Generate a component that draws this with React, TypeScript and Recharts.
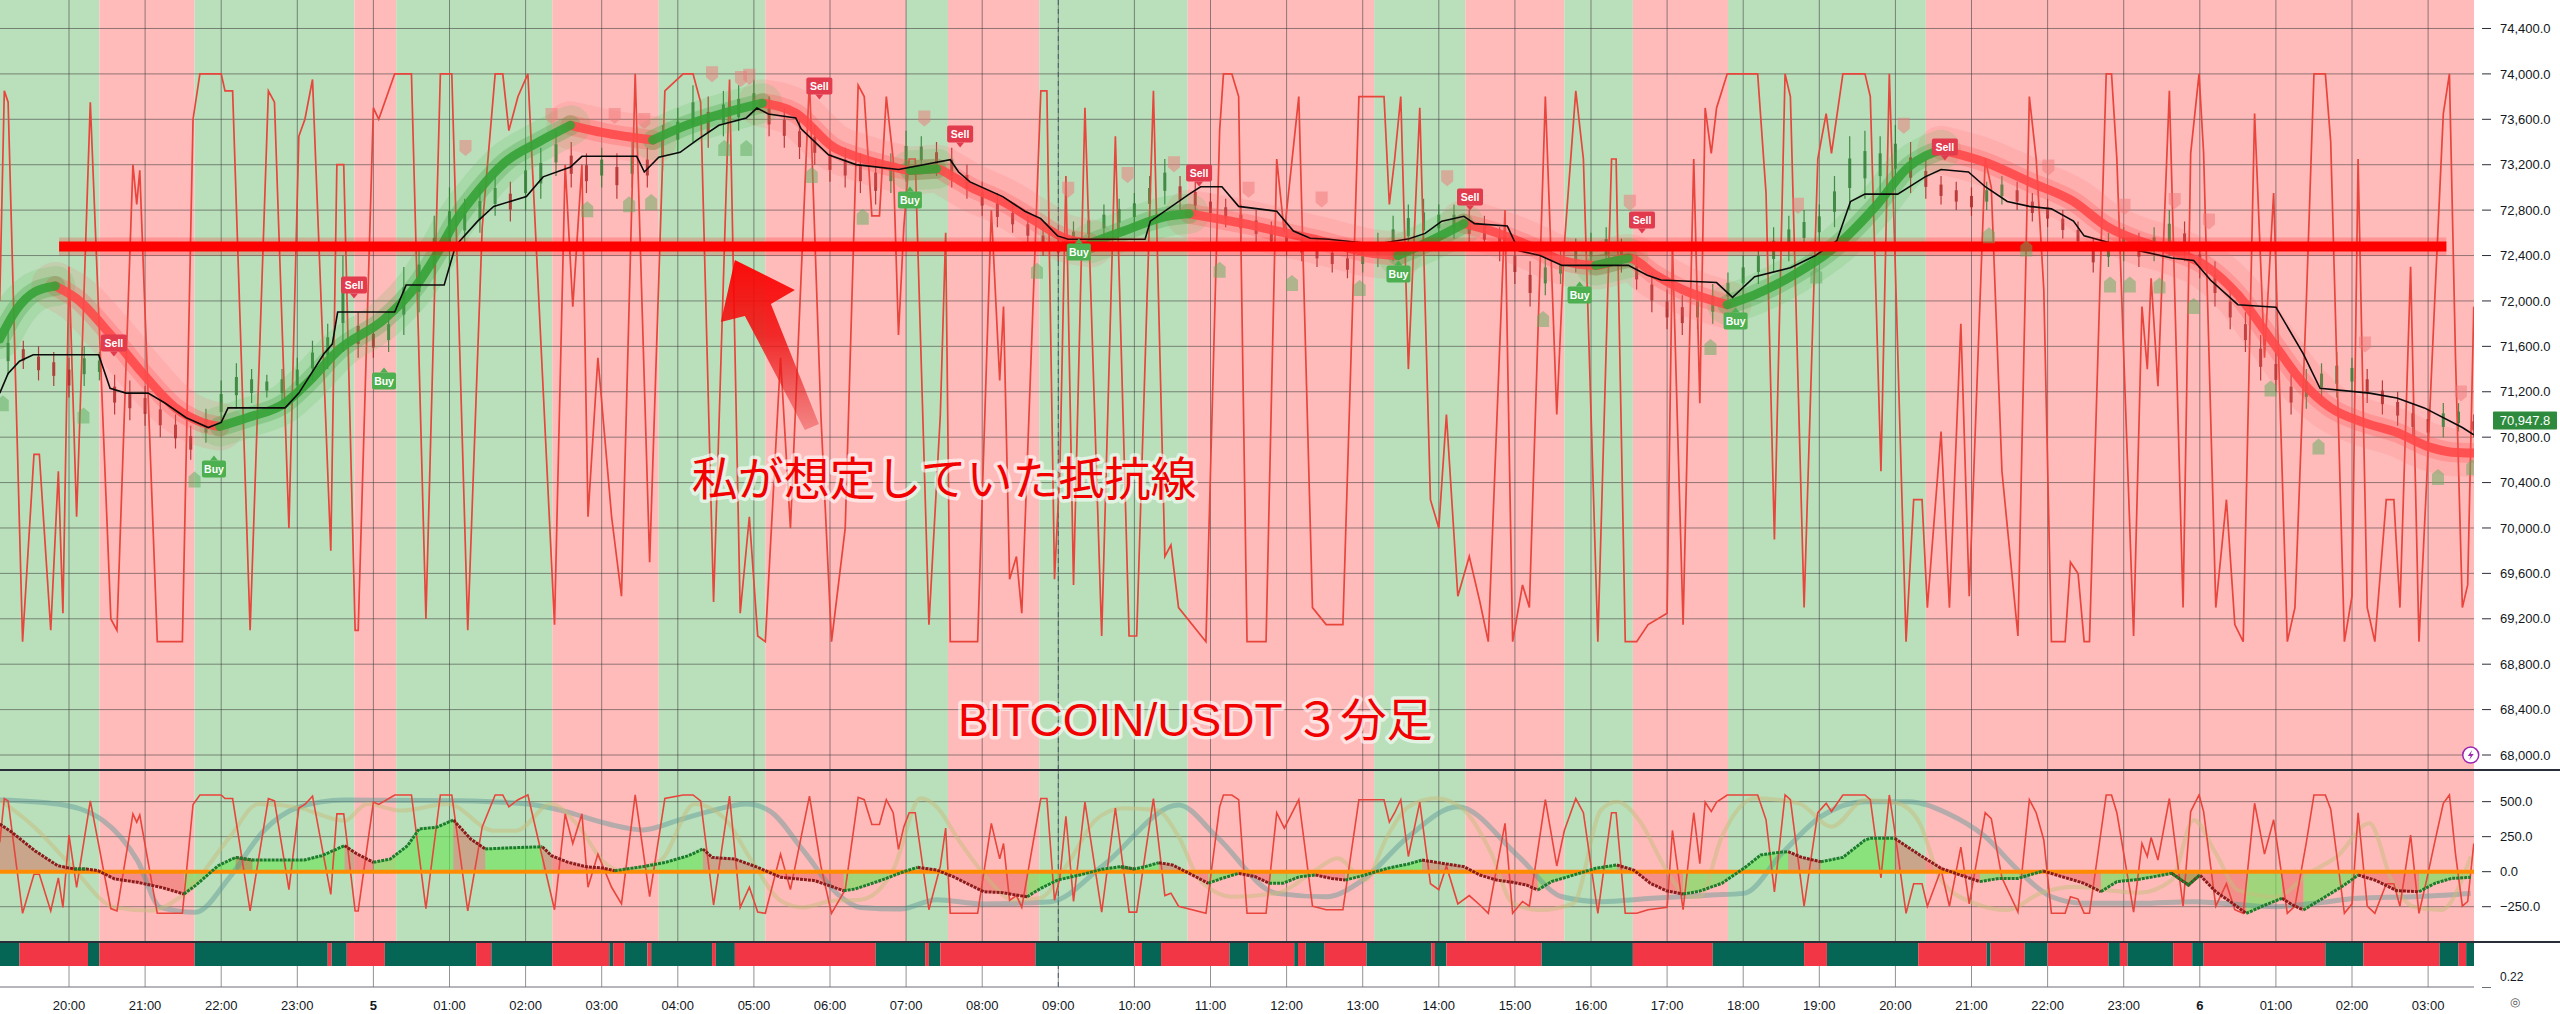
import React from "react";
import {
  Area,
  Bar,
  ComposedChart,
  Line,
  ReferenceArea,
  ReferenceDot,
  ReferenceLine,
  Scatter,
  XAxis,
  YAxis,
} from "recharts";

// page layout (2560 x 1014)
const W = 2560;
const AXIS_W = 86;
const MAIN_H = 770;
const LOW_H = 171;
const STRIP_H = 24;
const TIME_H = 48;

// x = hours since 19:00 on the 4th (3 minute bars)
const X_DOMAIN: [number, number] = [0.0933, 32.603];
const PRICE_DOMAIN: [number, number] = [67868, 74651];
const OSC_MAIN_DOMAIN: [number, number] = [-22.6, 113];
const LOW_DOMAIN: [number, number] = [-495, 726];
const OSC_LOW_DOMAIN: [number, number] = [-23.4, 121.1];

const hourTicks = [1, 2, 3, 4, 5, 6, 7, 8, 9, 10, 11, 12, 13, 14, 15, 16, 17, 18, 19, 20, 21, 22, 23, 24, 25, 26, 27, 28, 29, 30, 31, 32];
const hourLabels = [
  "20:00", "21:00", "22:00", "23:00", "5", "01:00", "02:00", "03:00", "04:00", "05:00", "06:00",
  "07:00", "08:00", "09:00", "10:00", "11:00", "12:00", "13:00", "14:00", "15:00", "16:00", "17:00",
  "18:00", "19:00", "20:00", "21:00", "22:00", "23:00", "6", "01:00", "02:00", "03:00",
];
const priceTicks = [68000, 68400, 68800, 69200, 69600, 70000, 70400, 70800, 71200, 71600, 72000, 72400, 72800, 73200, 73600, 74000, 74400];
const lowTicks = [500, 250, 0, -250];
const CROSSHAIR_H = 14;
const LAST_PRICE = 70947.8;
const RESISTANCE = 72480;
const resistanceSpan = [0.87, 32.24];

// background trend bands, alternating green / red starting green
const bandEdges = [0.0933, 1.4, 2.65, 4.75, 5.3, 7.35, 8.75, 10.15, 12.0, 12.55, 13.75, 15.7, 18.15, 19.35, 20.65, 21.55, 22.8, 25.4, 32.603];
// bottom signal strip, alternating dark green / red starting dark green
const stripEdges = [
  0.0933, 0.35, 1.25, 1.4, 2.65, 4.4, 4.45, 4.65, 5.15, 6.35, 6.55, 7.35, 8.1, 8.15, 8.3, 8.6, 8.65, 9.45, 9.5,
  9.75, 11.6, 12.25, 12.3, 12.45, 13.7, 15.0, 15.1, 15.35, 16.25, 16.5, 17.1, 17.15, 17.25, 17.5, 18.05, 18.9,
  18.95, 19.1, 20.35, 21.55, 22.6, 23.8, 24.1, 25.3, 26.2, 26.25, 26.7, 27.0, 27.8, 27.95, 28.05, 28.65, 28.9,
  29.05, 30.65, 31.15, 32.15, 32.4, 32.5, 32.603,
];

// stochastic-style oscillator (0..100), drawn in both panes
const oscPoints = [
  [0.09, 60], [0.15, 97], [0.2, 95], [0.39, 0], [0.54, 33], [0.61, 33], [0.76, 2], [0.86, 30], [0.92, 5], [1.0, 66],
  [1.1, 22], [1.28, 95], [1.55, 4], [1.63, 2], [1.84, 84], [1.89, 77], [1.93, 83], [2.16, 0], [2.49, 0], [2.63, 92],
  [2.72, 100], [3.0, 100], [3.05, 97], [3.15, 97], [3.38, 2], [3.62, 97], [3.7, 95], [3.89, 20], [4.02, 89], [4.1, 92],
  [4.2, 99], [4.44, 16], [4.52, 84], [4.61, 84], [4.76, 2], [4.8, 2], [5.0, 94], [5.07, 92], [5.28, 100], [5.5, 100],
  [5.69, 4], [5.88, 100], [6.03, 100], [6.24, 2], [6.43, 73], [6.6, 100], [6.7, 100], [6.78, 90], [6.9, 96], [7.03, 100],
  [7.38, 3], [7.52, 84], [7.62, 59], [7.74, 84], [7.82, 22], [7.95, 50], [8.13, 22], [8.26, 8], [8.44, 100], [8.63, 14],
  [8.83, 97], [9.07, 100], [9.2, 100], [9.3, 95], [9.47, 7], [9.68, 99], [9.82, 5], [9.94, 22], [10.05, 1], [10.15, 0],
  [10.35, 50], [10.48, 20], [10.73, 99], [10.88, 40], [11.02, 0], [11.2, 20], [11.37, 98], [11.45, 96], [11.55, 75], [11.65, 75],
  [11.74, 96], [11.83, 85], [11.9, 54], [11.97, 73], [12.04, 85], [12.12, 85], [12.3, 3], [12.45, 40], [12.52, 72], [12.58, 0],
  [12.94, 0], [13.12, 76], [13.23, 46], [13.28, 59], [13.36, 11], [13.45, 15], [13.52, 5], [13.77, 97], [13.85, 97], [13.95, 11],
  [14.02, 30], [14.1, 82], [14.2, 10], [14.35, 94], [14.57, 1], [14.75, 89], [14.93, 1], [15.03, 1], [15.25, 97], [15.4, 15],
  [15.48, 17], [15.58, 6], [15.94, 0], [16.12, 90], [16.17, 100], [16.28, 100], [16.37, 96], [16.48, 0], [16.73, 0], [16.87, 85],
  [16.97, 72], [17.16, 96], [17.34, 6], [17.52, 3], [17.74, 3], [17.95, 96], [18.28, 96], [18.35, 77], [18.42, 85], [18.5, 96],
  [18.6, 48], [18.75, 94], [18.89, 25], [19.0, 20], [19.1, 40], [19.25, 8], [19.4, 15], [19.54, 7], [19.65, 0], [19.87, 76],
  [19.97, 0], [20.1, 10], [20.19, 6], [20.4, 96], [20.55, 40], [20.65, 70], [20.8, 97], [20.9, 85], [21.09, 0], [21.27, 85],
  [21.33, 85], [21.45, 0], [21.6, 0], [21.75, 3], [22.0, 5], [22.07, 70], [22.21, 3], [22.35, 85], [22.43, 42], [22.5, 94],
  [22.58, 86], [22.65, 94], [22.79, 100], [23.19, 100], [23.3, 79], [23.41, 18], [23.55, 100], [23.62, 96], [23.8, 6], [23.98, 85],
  [24.09, 93], [24.16, 86], [24.31, 100], [24.6, 100], [24.67, 96], [24.81, 30], [24.92, 100], [24.99, 70], [25.14, 0], [25.24, 25],
  [25.35, 25], [25.42, 6], [25.6, 37], [25.71, 6], [25.86, 56], [25.97, 8], [26.18, 85], [26.26, 80], [26.4, 30], [26.61, 1],
  [26.76, 96], [26.85, 85], [26.95, 62], [27.05, 0], [27.23, 0], [27.3, 14], [27.4, 12], [27.48, 0], [27.55, 0], [27.77, 100],
  [27.84, 100], [27.91, 85], [28.13, 1], [28.24, 59], [28.31, 48], [28.36, 64], [28.45, 45], [28.6, 97], [28.78, 6], [28.88, 86],
  [28.99, 100], [29.05, 86], [29.21, 6], [29.35, 25], [29.46, 3], [29.57, 0], [29.72, 93], [29.85, 50], [29.97, 79], [30.15, 0],
  [30.25, 6], [30.4, 60], [30.5, 100], [30.65, 100], [30.72, 88], [30.9, 0], [31.0, 8], [31.08, 85], [31.2, 6], [31.3, 0],
  [31.45, 25], [31.55, 25], [31.63, 6], [31.77, 66], [31.88, 0], [31.98, 28], [32.09, 61], [32.2, 93], [32.28, 100], [32.36, 50],
  [32.45, 6], [32.52, 10], [32.6, 59],
];

// thick trend average (price)
const maPoints = [
  [0.09, 71664], [0.31, 71924], [0.55, 72080], [0.82, 72132], [1.1, 72020], [1.54, 71707], [1.97, 71361], [2.4, 71058],
  [2.75, 70930], [2.98, 70894], [3.34, 70971], [3.84, 71101], [4.13, 71275], [4.56, 71577], [5.14, 71837], [5.57, 72140],
  [5.86, 72443], [6.08, 72703], [6.37, 72963], [6.73, 73222], [7.16, 73396], [7.59, 73547], [8.02, 73482], [8.67, 73417],
  [9.11, 73547], [9.61, 73655], [10.11, 73742], [10.55, 73655], [11.05, 73352], [11.4, 73260], [11.83, 73180], [12.05, 73150],
  [12.4, 73165], [12.6, 73100], [12.84, 73006], [13.27, 72876], [13.7, 72703], [14.06, 72560], [14.42, 72508], [14.86, 72616],
  [15.43, 72746], [15.72, 72768], [16.08, 72725], [16.44, 72681], [16.87, 72616], [17.45, 72530], [18.1, 72422], [18.46, 72400],
  [18.89, 72530], [19.33, 72681], [19.69, 72616], [20.19, 72487], [20.62, 72357], [21.06, 72313], [21.49, 72378], [21.85, 72227],
  [22.21, 72097], [22.79, 71967], [23.15, 72054], [23.66, 72227], [24.23, 72487], [24.74, 72833], [25.17, 73179], [25.6, 73331],
  [26.18, 73222], [26.76, 73049], [27.34, 72876], [27.77, 72660], [28.2, 72530], [28.63, 72443], [29.07, 72313], [29.5, 72054],
  [29.93, 71664], [30.36, 71274], [30.72, 71058], [31.16, 70928], [31.59, 70841], [32.02, 70712], [32.31, 70668], [32.6, 70660],
];

// black baseline
const basePoints = [
  [0.09, 71188], [0.2, 71361], [0.35, 71469], [0.53, 71526], [1.39, 71526], [1.54, 71231], [1.75, 71188], [2.04, 71188],
  [2.26, 71101], [2.54, 70971], [2.83, 70885], [3.0, 70930], [3.09, 71058], [3.84, 71058], [4.02, 71188], [4.35, 71534],
  [4.46, 71620], [4.53, 71902], [5.28, 71902], [5.43, 72140], [5.93, 72140], [6.08, 72487], [6.37, 72703], [6.58, 72833],
  [7.01, 72919], [7.23, 73093], [7.59, 73179], [7.74, 73274], [8.46, 73274], [8.56, 73136], [8.75, 73266], [9.03, 73309],
  [9.25, 73417], [9.54, 73547], [9.9, 73612], [10.04, 73699], [10.19, 73647], [10.55, 73612], [10.62, 73517], [10.98, 73287],
  [11.34, 73201], [11.9, 73158], [12.58, 73244], [12.69, 73136], [12.84, 73049], [13.27, 72919], [13.56, 72790], [13.77, 72725],
  [13.99, 72573], [14.13, 72543], [15.14, 72543], [15.21, 72703], [15.72, 72941], [15.87, 73006], [16.15, 73006], [16.37, 72833],
  [16.87, 72790], [17.09, 72616], [17.31, 72552], [17.56, 72543], [18.17, 72500], [18.61, 72547], [18.82, 72595], [19.04, 72703],
  [19.33, 72746], [19.47, 72681], [19.9, 72660], [20.05, 72443], [20.33, 72400], [20.62, 72313], [21.49, 72313], [21.74, 72227],
  [21.92, 72184], [22.65, 72162], [22.86, 72032], [23.15, 72214], [23.62, 72292], [23.95, 72400], [24.23, 72530], [24.41, 72876],
  [24.6, 72941], [25.03, 72941], [25.39, 73093], [25.6, 73158], [25.96, 73136], [26.18, 73006], [26.47, 72876], [26.76, 72833],
  [27.05, 72811], [27.34, 72703], [27.48, 72573], [28.2, 72443], [28.63, 72378], [28.92, 72357], [29.14, 72184], [29.5, 71967],
  [30.0, 71945], [30.36, 71534], [30.58, 71231], [31.23, 71188], [31.59, 71145], [31.95, 71058], [32.45, 70885], [32.6, 70820],
];

// candles every 0.2 h (high / low)
const CANDLE_T0 = 0.2;
const CANDLE_STEP = 0.2;
const candleLo = [
  71350, 71400, 71300, 71250, 71150, 71250, 71300, 71000, 70950, 70900, 70800, 70700, 70600, 70750, 70900, 71050, 71100,
  71150, 71100, 71150, 71300, 71400, 71550, 71500, 71500, 71550, 71700, 71900, 72100, 72300, 72500, 72600, 72750, 72700,
  72800, 72900, 73100, 73000, 72950, 73000, 72900, 73000, 73000, 73150, 73300, 73400, 73350, 73450, 73500, 73550, 73450,
  73350, 73250, 73200, 73050, 73000, 72950, 72850, 72950, 73050, 73150, 73100, 73000, 72900, 72750, 72650, 72600, 72500,
  72400, 72350, 72400, 72500, 72550, 72600, 72650, 72750, 72850, 72800, 72750, 72700, 72650, 72550, 72500, 72450, 72400,
  72350, 72300, 72250, 72200, 72250, 72300, 72350, 72450, 72500, 72550, 72550, 72500, 72450, 72350, 72150, 71950, 72050,
  72150, 72250, 72300, 72300, 72250, 72100, 71900, 71750, 71700, 71750, 71800, 71950, 72050, 72150, 72250, 72350, 72450,
  72500, 72650, 72800, 72900, 72950, 73000, 72950, 72900, 72850, 72800, 72750, 72800, 72850, 72800, 72700, 72650, 72550,
  72450, 72250, 72300, 72350, 72300, 72350, 72400, 72350, 72200, 71950, 71750, 71550, 71300, 71200, 71000, 71050, 71150,
  71150, 71200, 71100, 71000, 70900, 70800, 70750, 70800, 70850, 70800,
];
const candleHi = [
  71750, 71650, 71600, 71550, 71500, 71600, 71550, 71350, 71300, 71250, 71150, 71000, 70900, 71050, 71300, 71450, 71400,
  71350, 71400, 71500, 71650, 71800, 72400, 71900, 71800, 71900, 72300, 72500, 72750, 73000, 72900, 73000, 73100, 73050,
  73300, 73350, 73500, 73400, 73300, 73350, 73300, 73400, 73350, 73550, 73700, 73900, 73800, 73850, 73900, 73950, 73800,
  73700, 73600, 73550, 73400, 73350, 73300, 73250, 73300, 73500, 73450, 73400, 73350, 73200, 73050, 72950, 72850, 72750,
  72650, 72600, 72700, 72800, 72850, 72900, 72950, 73100, 73250, 73100, 73050, 72950, 72900, 72850, 72800, 72700, 72650,
  72600, 72550, 72500, 72450, 72500, 72600, 72750, 72850, 72900, 72850, 72850, 72800, 72750, 72650, 72500, 72350, 72400,
  72450, 72550, 72600, 72650, 72550, 72400, 72250, 72100, 72050, 72100, 72150, 72250, 72400, 72500, 72650, 72750, 72800,
  72850, 73100, 73450, 73500, 73450, 73550, 73400, 73250, 73100, 73050, 73000, 73050, 73100, 73050, 72950, 72900, 72800,
  72700, 72550, 72600, 72650, 72600, 72650, 72800, 72700, 72500, 72350, 72100, 71900, 71700, 71550, 71350, 71400, 71450,
  71550, 71500, 71400, 71300, 71200, 71100, 71050, 71100, 71100, 71000,
];

// buy / sell signal labels
const sellT = [1.59, 4.745, 10.86, 12.71, 15.85, 19.41, 21.67, 25.65];
const sellP = [71625, 72136, 73889, 73466, 73122, 72911, 72708, 73351];
const buyT = [2.905, 5.14, 12.05, 14.27, 18.47, 20.85, 22.9];
const buyP = [70523, 71299, 72893, 72435, 72241, 72056, 71827];

// faded arrow markers
const upT = [0.13, 1.19, 2.65, 7.81, 8.36, 8.65, 9.61, 9.9, 10.76, 11.43, 13.72, 16.12, 17.07, 17.96, 20.37, 22.57, 23.96, 26.23, 26.72, 27.82, 28.08, 28.47, 28.92, 29.93, 30.56, 32.13, 32.58];
const upP = [71098, 70990, 70427, 72807, 72851, 72872, 73348, 73348, 73110, 72742, 72266, 72275, 72158, 72115, 71842, 71595, 72223, 72578, 72461, 72145, 72145, 72136, 71955, 71228, 70717, 70449, 70535];
const downT = [6.21, 7.34, 8.17, 8.56, 9.45, 9.83, 9.94, 12.24, 14.13, 14.91, 15.52, 16.5, 17.46, 19.11, 21.51, 23.72, 25.11, 27.01, 28.01, 28.67, 29.12, 31.17, 32.43];
const downP = [73348, 73630, 73630, 73586, 73997, 73954, 73976, 73608, 72980, 73110, 73205, 72980, 72894, 73080, 72864, 72838, 73543, 73175, 72829, 72881, 72699, 71617, 71184];

// annotations (anchor point in data space)
const arrowTip = { t: 9.75, p: 72361 };
const noteText = { t: 12.5, p: 70432, text: "私が想定していた抵抗線" };
const titleText = { t: 15.8, p: 68309, text: "BITCOIN/USDT ３分足" };

// lower pane: momentum wave, and two slow oscillators
const wavePoints = [
  [0.09, 340], [0.25, 281], [0.55, 150], [0.85, 43], [1.07, 19], [1.23, 19], [1.38, 7], [1.6, -52], [1.9, -76], [2.21, -112],
  [2.51, -159], [2.66, -100], [2.96, 43], [3.19, 102], [3.41, 83], [3.72, 83], [4.09, 83], [4.32, 114], [4.62, 186], [4.77, 131],
  [5.0, 67], [5.22, 90], [5.45, 186], [5.6, 305], [5.83, 317], [6.05, 369], [6.28, 233], [6.47, 162], [6.73, 169], [7.22, 178],
  [7.34, 114], [7.56, 67], [7.79, 36], [8.01, 26], [8.17, 7], [8.32, 19], [8.54, 36], [8.84, 67], [9.14, 114], [9.33, 162],
  [9.45, 102], [9.75, 90], [10.05, 31], [10.35, -40], [10.8, -64], [11.18, -136], [11.33, -124], [11.68, -60], [11.97, 0], [12.15, 31],
  [12.4, 12], [12.62, -36], [12.84, -95], [13.02, -143], [13.27, -150], [13.45, -167], [13.59, -179], [13.77, -119], [13.99, -60], [14.28, -24],
  [14.57, 17], [14.82, 36], [15.0, 19], [15.14, 36], [15.32, 64], [15.5, 48], [15.72, -12], [15.97, -83], [16.15, -48], [16.37, -12],
  [16.59, -36], [16.77, -83], [16.95, -83], [17.17, -36], [17.38, -24], [17.59, -48], [17.77, -60], [18.03, -24], [18.32, 24], [18.6, 55],
  [18.78, 83], [19.04, 60], [19.33, 36], [19.54, -24], [19.76, -60], [19.97, -76], [20.15, -95], [20.3, -131], [20.48, -71], [20.77, -24],
  [21.06, 24], [21.34, 48], [21.56, 12], [21.78, -83], [21.99, -136], [22.21, -160], [22.42, -140], [22.72, -83], [23.01, 24], [23.23, 119],
  [23.44, 136], [23.59, 143], [23.77, 102], [24.02, 71], [24.31, 102], [24.6, 226], [24.67, 238], [24.99, 238], [25.32, 119], [25.6, 24],
  [25.89, -31], [26.11, -71], [26.36, -48], [26.61, -48], [26.94, 5], [27.19, -36], [27.48, -83], [27.7, -143], [27.91, -71], [28.2, -55],
  [28.63, -12], [28.85, -95], [29.0, -24], [29.21, -143], [29.43, -226], [29.61, -298], [29.86, -238], [30.08, -190], [30.22, -238], [30.36, -274],
  [30.65, -179], [30.9, -95], [31.08, -24], [31.3, -60], [31.59, -136], [31.88, -143], [32.09, -83], [32.31, -48], [32.56, -40],
];
const slowPoints = [
  [0.09, 512], [0.85, 483], [1.45, 364], [1.9, 79], [2.2, -255], [2.66, -290], [3.11, -40], [3.56, 293], [4.01, 459], [4.62, 512],
  [6.13, 507], [7.03, 483], [7.48, 436], [8.09, 340], [8.54, 298], [8.99, 364], [9.45, 436], [9.9, 483], [10.2, 436], [10.65, 150],
  [11.1, -160], [11.4, -255], [11.92, -267], [12.4, -200], [13.0, -230], [13.9, -214], [14.6, 50], [15.58, 476], [16.08, 250], [16.87, -155],
  [17.52, -179], [18.0, -60], [18.6, 250], [19.25, 464], [20.05, 107], [20.62, -179], [21.13, -214], [21.8, -190], [22.58, -167], [23.01, -155],
  [23.51, 131], [24.02, 393], [24.6, 500], [25.17, 500], [25.68, 417], [26.18, 250], [26.61, 12], [27.05, -179], [27.48, -226], [28.2, -226],
  [28.92, -214], [30.0, -250], [30.5, -226], [31.08, -190], [31.8, -179], [32.56, -155],
];
const fastPoints = [
  [0.09, 512], [0.55, 316], [1.0, 60], [1.6, -255], [2.06, -278], [2.51, -160], [3.11, 245], [3.49, 483], [4.0, 459], [4.62, 364],
  [4.92, 483], [5.37, 436], [5.98, 483], [6.58, 293], [6.88, 293], [7.33, 483], [7.71, 316], [8.01, 79], [8.24, 7], [8.77, 79],
  [9.22, 483], [9.6, 388], [9.97, 79], [10.35, -207], [10.65, -255], [11.03, -207], [11.4, -200], [11.83, 12], [12.19, 524], [12.4, 464],
  [12.69, 226], [13.05, -36], [13.41, -202], [13.75, -190], [14.13, 60], [14.49, 369], [14.85, 452], [15.29, 440], [15.58, 250], [15.86, -60],
  [16.3, -179], [16.9, -150], [17.38, 12], [17.67, 95], [18.03, -60], [18.32, 250], [18.6, 464], [18.97, 524], [19.33, 440], [19.69, 131],
  [19.97, -226], [20.33, -274], [20.77, -226], [21.13, 440], [21.34, 500], [21.63, 369], [21.99, 12], [22.28, -179], [22.43, -179], [22.72, 250],
  [23.15, 524], [23.73, 488], [24.16, 321], [24.6, 512], [25.03, 488], [25.32, 345], [25.6, -60], [26.04, -226], [26.47, -274], [26.9, -155],
  [27.34, -107], [27.77, -131], [28.2, -150], [28.63, -60], [28.92, 369], [29.21, 131], [29.5, -131], [30.0, -179], [30.43, -12], [30.8, 107],
  [31.23, 345], [31.52, -60], [31.81, -250], [32.17, -274], [32.56, 107],
];

// ---------- derived rows ----------
const BAND_G = "#badfbb";
const BAND_R = "#ffbaba";
const STRIP_G = "#056656";
const STRIP_R = "#f23645";
const TXT = "#131722";
const AXIS_FONT = "'Liberation Sans', Arial, sans-serif";
const GRID = "#3a3a3a";

function segments(edges: number[], colors: [string, string]) {
  return edges.slice(0, -1).map((x1, i) => ({ x1, x2: edges[i + 1], fill: colors[i % 2] }));
}
const bands = segments(bandEdges, [BAND_G, BAND_R]);
const strip = segments(stripEdges, [STRIP_G, STRIP_R]);

const toRows = (pts: number[][]) => pts.map(([t, v]) => ({ t, v }));
function byDirection(pts: number[][]) {
  return pts.map(([t, v], i) => {
    const prev = i > 0 ? pts[i - 1][1] : null;
    const next = i < pts.length - 1 ? pts[i + 1][1] : null;
    const up = (prev !== null && v >= prev) || (next !== null && next >= v);
    const down = (prev !== null && v < prev) || (next !== null && next < v);
    return { t, v, up: up ? v : null, down: down ? v : null };
  });
}

const oscRows = toRows(oscPoints);
const maRows = byDirection(maPoints);
const baseRows = toRows(basePoints);
const waveRows = byDirection(wavePoints);
const slowRows = toRows(slowPoints);
const fastRows = toRows(fastPoints);
const resistanceRows = resistanceSpan.map((t) => ({ t, v: RESISTANCE }));
const zeroRows = X_DOMAIN.map((t) => ({ t, v: 0 }));
const candleRows = candleLo.map((lo, i) => {
  const hi = candleHi[i];
  const prevMid = i > 0 ? (candleLo[i - 1] + candleHi[i - 1]) / 2 : lo;
  return {
    t: Math.round((CANDLE_T0 + i * CANDLE_STEP) * 100) / 100,
    range: [lo, hi],
    up: (lo + hi) / 2 >= prevMid,
  };
});
const zipRows = (ts: number[], ps: number[]) => ts.map((t, i) => ({ t, p: ps[i] }));
const sellRows = zipRows(sellT, sellP);
const buyRows = zipRows(buyT, buyP);
const upRows = zipRows(upT, upP);
const downRows = zipRows(downT, downP);

const fmtNum = (v: number) =>
  (v < 0 ? "\u2212" : "") +
  Math.abs(v).toLocaleString("en-US", { minimumFractionDigits: 1, maximumFractionDigits: 1 });

// ---------- shapes ----------
function AxisTick({ x, y, payload }: any) {
  return (
    <g>
      <line x1={x + 8} x2={x + 17} y1={y} y2={y} stroke="#2a2e39" strokeWidth={1} />
      <text x={x + 26} y={y} dy="0.36em" fontSize={13} fill={TXT} fontFamily={AXIS_FONT}>
        {fmtNum(payload.value)}
      </text>
    </g>
  );
}

function TimeTick({ x, y, payload }: any) {
  const label = hourLabels[payload.value - 1] ?? "";
  const day = label.length === 1;
  return (
    <text x={x} y={y} dy={23} textAnchor="middle" fontSize={13} fill={TXT} fontFamily={AXIS_FONT} fontWeight={day ? 700 : 400}>
      {label}
    </text>
  );
}

function CandleShape(props: any) {
  const { x, y, width, height, payload } = props;
  if (x == null || y == null || !payload) return null;
  const top = Math.min(y, y + height);
  const h = Math.abs(height);
  const cx = x + width / 2;
  const col = payload.up ? "#2e7d32" : "#b02525";
  return (
    <g opacity={0.85}>
      <line x1={cx} x2={cx} y1={top} y2={top + h} stroke={col} strokeWidth={1.2} />
      <rect x={cx - 1.5} y={top + h * 0.3} width={3} height={Math.max(1, h * 0.4)} fill={col} />
    </g>
  );
}

function SellShape({ cx, cy }: any) {
  return (
    <g>
      <rect x={cx - 13} y={cy - 9} width={26} height={17} rx={2} fill="#e23b4e" />
      <path d={`M${cx - 4},${cy + 8} L${cx + 4},${cy + 8} L${cx},${cy + 13} Z`} fill="#e23b4e" />
      <text x={cx} y={cy} dy="0.35em" textAnchor="middle" fontSize={10.5} fontWeight={700} fill="#fff" fontFamily={AXIS_FONT}>
        Sell
      </text>
    </g>
  );
}

function BuyShape({ cx, cy }: any) {
  return (
    <g>
      <path d={`M${cx - 4},${cy - 8} L${cx + 4},${cy - 8} L${cx},${cy - 13} Z`} fill="#4caf50" />
      <rect x={cx - 12} y={cy - 8} width={24} height={17} rx={2} fill="#4caf50" />
      <text x={cx} y={cy} dy="0.38em" textAnchor="middle" fontSize={10.5} fontWeight={700} fill="#fff" fontFamily={AXIS_FONT}>
        Buy
      </text>
    </g>
  );
}

function UpMark({ cx, cy }: any) {
  return (
    <path
      d={`M${cx},${cy - 8} L${cx + 6},${cy - 3} L${cx + 6},${cy + 8} L${cx - 6},${cy + 8} L${cx - 6},${cy - 3} Z`}
      fill="#5fae5f"
      fillOpacity={0.5}
    />
  );
}

function DownMark({ cx, cy }: any) {
  return (
    <path
      d={`M${cx},${cy + 8} L${cx + 6},${cy + 3} L${cx + 6},${cy - 8} L${cx - 6},${cy - 8} L${cx - 6},${cy + 3} Z`}
      fill="#f07878"
      fillOpacity={0.5}
    />
  );
}

function ArrowShape({ cx, cy }: any) {
  const pts = [
    [0, 0], [60, 30], [36, 44], [84, 164], [70, 170], [10, 56], [-14, 62],
  ]
    .map(([dx, dy]) => `${cx + dx},${cy + dy}`)
    .join(" ");
  return (
    <g>
      <defs>
        <linearGradient id="arrowFade" x1="0" y1="0" x2="0" y2="1">
          <stop offset="0" stopColor="#ff0000" stopOpacity={0.95} />
          <stop offset="0.45" stopColor="#f01010" stopOpacity={0.85} />
          <stop offset="1" stopColor="#e02020" stopOpacity={0.35} />
        </linearGradient>
      </defs>
      <polygon points={pts} fill="url(#arrowFade)" />
    </g>
  );
}

function makeTextShape(text: string, size: number, family: string) {
  return ({ cx, cy }: any) => (
    <text
      x={cx}
      y={cy}
      dy="0.36em"
      textAnchor="middle"
      fontSize={size}
      fontFamily={family}
      fill="#f20000"
      stroke="#ffffff"
      strokeOpacity={0.6}
      strokeWidth={7}
      strokeLinejoin="round"
      paintOrder="stroke"
    >
      {text}
    </text>
  );
}
const NoteShape = makeTextShape(noteText.text, 46, "'Noto Sans CJK JP', sans-serif");
const TitleShape = makeTextShape(titleText.text, 46, "'Liberation Sans', 'Noto Sans CJK JP', sans-serif");

function LastPriceLabel(props: any) {
  const vb = props.viewBox;
  if (!vb) return null;
  const x = vb.x + vb.width + 19;
  return (
    <g>
      <rect x={x} y={vb.y - 9} width={64} height={18} rx={1} fill="#2e8b3e" />
      <text x={x + 32} y={vb.y} dy="0.36em" textAnchor="middle" fontSize={13} fill="#fff" fontFamily={AXIS_FONT}>
        {fmtNum(LAST_PRICE)}
      </text>
    </g>
  );
}

function BoltShape({ cx, cy }: any) {
  return (
    <g>
      <circle cx={cx} cy={cy} r={8} fill="#fff" stroke="#9c27b0" strokeWidth={1.5} />
      <path d={`M${cx + 1.5},${cy - 5} L${cx - 3},${cy + 1} L${cx},${cy + 1} L${cx - 1.5},${cy + 5} L${cx + 3},${cy - 1} L${cx},${cy - 1} Z`} fill="#9c27b0" />
    </g>
  );
}

// ---------- panes ----------
const noAnim = { isAnimationActive: false, dot: false, activeDot: false } as const;

function hourGrid(yAxisId: string) {
  return hourTicks.map((h) => (
    <ReferenceLine key={`vh${h}`} yAxisId={yAxisId} x={h} stroke={GRID} strokeOpacity={0.55} strokeWidth={1} zIndex={-150} />
  ));
}
function bandAreas(yAxisId: string, list: { x1: number; x2: number; fill: string }[], prefix: string) {
  return list.map((b, i) => (
    <ReferenceArea
      key={`${prefix}${i}`}
      yAxisId={yAxisId}
      x1={b.x1}
      x2={b.x2}
      fill={b.fill}
      fillOpacity={1}
      stroke="none"
      ifOverflow="hidden"
      zIndex={-200}
    />
  ));
}
function crosshair(yAxisId: string) {
  return <ReferenceLine yAxisId={yAxisId} x={CROSSHAIR_H} stroke="#4a5a6a" strokeDasharray="5 4" strokeWidth={1} zIndex={-140} />;
}

function MainPane() {
  return (
    <ComposedChart width={W} height={MAIN_H} data={candleRows} margin={{ top: 0, right: 0, bottom: 0, left: 0 }}>
      <XAxis dataKey="t" type="number" domain={X_DOMAIN} allowDataOverflow hide />
      <YAxis
        yAxisId="p"
        orientation="right"
        width={AXIS_W}
        domain={PRICE_DOMAIN}
        allowDataOverflow
        ticks={priceTicks}
        interval={0}
        tick={<AxisTick />}
        tickSize={0}
        tickMargin={0}
        tickLine={false}
        axisLine={false}
      />
      <YAxis yAxisId="o" hide domain={OSC_MAIN_DOMAIN} allowDataOverflow />
      {bandAreas("p", bands, "mb")}
      {hourGrid("p")}
      {priceTicks.map((p) => (
        <ReferenceLine key={`hp${p}`} yAxisId="p" y={p} stroke={GRID} strokeOpacity={0.55} strokeWidth={1} zIndex={-150} />
      ))}
      {crosshair("p")}
      <Bar yAxisId="p" dataKey="range" barSize={3} shape={<CandleShape />} isAnimationActive={false} />
      <Line data={oscRows} yAxisId="o" dataKey="v" type="linear" stroke="#e8453c" strokeWidth={1.7} {...noAnim} />
      <Line data={maRows} yAxisId="p" dataKey="down" type="monotone" stroke="#ff6a6a" strokeOpacity={0.14} strokeWidth={48} strokeLinecap="round" {...noAnim} />
      <Line data={maRows} yAxisId="p" dataKey="up" type="monotone" stroke="#4cb84c" strokeOpacity={0.16} strokeWidth={40} strokeLinecap="round" {...noAnim} />
      <Line data={maRows} yAxisId="p" dataKey="down" type="monotone" stroke="#ff4d4d" strokeOpacity={0.25} strokeWidth={20} strokeLinecap="round" {...noAnim} />
      <Line data={maRows} yAxisId="p" dataKey="up" type="monotone" stroke="#3aa03a" strokeOpacity={0.28} strokeWidth={20} strokeLinecap="round" {...noAnim} />
      <Line data={maRows} yAxisId="p" dataKey="down" type="monotone" stroke="#ff4848" strokeOpacity={0.88} strokeWidth={9} strokeLinecap="round" {...noAnim} />
      <Line data={maRows} yAxisId="p" dataKey="up" type="monotone" stroke="#36a236" strokeOpacity={0.9} strokeWidth={9} strokeLinecap="round" {...noAnim} />
      <Line data={baseRows} yAxisId="p" dataKey="v" type="linear" stroke="#0b0b0b" strokeWidth={1.6} {...noAnim} />
      <Line data={resistanceRows} yAxisId="p" dataKey="v" type="linear" stroke="#ff0000" strokeOpacity={0.2} strokeWidth={18} {...noAnim} />
      <Line data={resistanceRows} yAxisId="p" dataKey="v" type="linear" stroke="#ff0000" strokeWidth={10} {...noAnim} />
      <Scatter data={upRows} yAxisId="p" dataKey="p" shape={<UpMark />} isAnimationActive={false} />
      <Scatter data={downRows} yAxisId="p" dataKey="p" shape={<DownMark />} isAnimationActive={false} />
      <Scatter data={sellRows} yAxisId="p" dataKey="p" shape={<SellShape />} isAnimationActive={false} />
      <Scatter data={buyRows} yAxisId="p" dataKey="p" shape={<BuyShape />} isAnimationActive={false} />
      <Scatter data={[arrowTip]} yAxisId="p" dataKey="p" shape={<ArrowShape />} isAnimationActive={false} />
      <Scatter data={[noteText]} yAxisId="p" dataKey="p" shape={<NoteShape />} isAnimationActive={false} />
      <Scatter data={[titleText]} yAxisId="p" dataKey="p" shape={<TitleShape />} isAnimationActive={false} />
      <ReferenceLine yAxisId="p" y={LAST_PRICE} stroke="none" ifOverflow="visible" label={(p: any) => <LastPriceLabel {...p} />} />
      <ReferenceDot yAxisId="p" x={32.56} y={68000} ifOverflow="visible" shape={<BoltShape />} />
    </ComposedChart>
  );
}

function LowerPane() {
  return (
    <ComposedChart width={W} height={LOW_H} margin={{ top: 0, right: 0, bottom: 0, left: 0 }}>
      <XAxis dataKey="t" type="number" domain={X_DOMAIN} allowDataOverflow hide />
      <YAxis
        yAxisId="v"
        orientation="right"
        width={AXIS_W}
        domain={LOW_DOMAIN}
        allowDataOverflow
        ticks={lowTicks}
        interval={0}
        tick={<AxisTick />}
        tickSize={0}
        tickMargin={0}
        tickLine={false}
        axisLine={false}
      />
      <YAxis yAxisId="o" hide domain={OSC_LOW_DOMAIN} allowDataOverflow />
      {bandAreas("v", bands, "lb")}
      {hourGrid("v")}
      {lowTicks.map((v) => (
        <ReferenceLine key={`hl${v}`} yAxisId="v" y={v} stroke={GRID} strokeOpacity={0.55} strokeWidth={1} zIndex={-150} />
      ))}
      {crosshair("v")}
      <Area data={waveRows} yAxisId="v" dataKey="up" type="linear" baseValue={0} stroke="none" fill="#6fe35a" fillOpacity={0.65} isAnimationActive={false} dot={false} activeDot={false} />
      <Area data={waveRows} yAxisId="v" dataKey="down" type="linear" baseValue={0} stroke="none" fill="#e0483c" fillOpacity={0.38} isAnimationActive={false} dot={false} activeDot={false} />
      <Line data={slowRows} yAxisId="v" dataKey="v" type="monotone" stroke="#5a9a98" strokeOpacity={0.45} strokeWidth={5} {...noAnim} />
      <Line data={fastRows} yAxisId="v" dataKey="v" type="monotone" stroke="#c8bd7c" strokeOpacity={0.5} strokeWidth={4} {...noAnim} />
      <Line data={oscRows} yAxisId="o" dataKey="v" type="linear" stroke="#e8453c" strokeWidth={1.6} {...noAnim} />
      <Line data={zeroRows} yAxisId="v" dataKey="v" type="linear" stroke="#ff8c00" strokeWidth={4} {...noAnim} />
      <Line data={waveRows} yAxisId="v" dataKey="down" type="linear" stroke="#8c1c1c" strokeWidth={3} strokeDasharray="3 1" {...noAnim} />
      <Line data={waveRows} yAxisId="v" dataKey="up" type="linear" stroke="#1b7d2b" strokeWidth={3} strokeDasharray="3 1" {...noAnim} />
    </ComposedChart>
  );
}

function StripPane() {
  return (
    <ComposedChart width={W} height={STRIP_H} margin={{ top: 0, right: AXIS_W, bottom: 0, left: 0 }}>
      <XAxis dataKey="t" type="number" domain={X_DOMAIN} allowDataOverflow hide />
      <YAxis yAxisId="s" hide domain={[0, 1]} />
      {bandAreas("s", strip, "sb")}
      <Line data={zeroRows} yAxisId="s" dataKey="v" stroke="none" {...noAnim} />
    </ComposedChart>
  );
}

function TimePane() {
  return (
    <ComposedChart width={W} height={TIME_H} margin={{ top: 0, right: AXIS_W, bottom: 0, left: 0 }}>
      <XAxis
        dataKey="t"
        type="number"
        domain={X_DOMAIN}
        allowDataOverflow
        ticks={hourTicks}
        interval={0}
        height={27}
        tick={<TimeTick />}
        tickSize={0}
        tickMargin={0}
        tickLine={false}
        axisLine={{ stroke: "#6b6f78" }}
      />
      <YAxis yAxisId="s" hide domain={[0, 1]} />
      {hourGrid("s")}
      {crosshair("s")}
      <Line data={zeroRows} yAxisId="s" dataKey="v" stroke="none" {...noAnim} />
    </ComposedChart>
  );
}

export default function App() {
  const abs = (top: number): React.CSSProperties => ({ position: "absolute", left: 0, top });
  return (
    <div style={{ position: "relative", width: W, height: 1014, background: "#fff", overflow: "hidden" }}>
      <style>{"body{margin:0;background:#fff}"}</style>
      <div style={abs(0)}>
        <MainPane />
      </div>
      <div style={abs(770)}>
        <LowerPane />
      </div>
      <div style={abs(942)}>
        <StripPane />
      </div>
      <div style={abs(966)}>
        <TimePane />
      </div>
      <div style={{ position: "absolute", left: 0, top: 769, width: W, height: 2, background: "#2a2e39" }} />
      <div style={{ position: "absolute", left: 0, top: 940.5, width: W, height: 2, background: "#2a2e39" }} />
      <div style={{ position: "absolute", left: 2482, top: 986.5, width: 9, height: 1, background: "#6b6f78" }} />
      <div style={{ position: "absolute", left: 2500, top: 970, fontSize: 12, lineHeight: "14px", color: TXT, fontFamily: AXIS_FONT }}>
        0.22
      </div>
      <div style={{ position: "absolute", left: 2510, top: 995, width: 14, height: 14, fontSize: 12, color: "#555", fontFamily: AXIS_FONT }}>
        ◎
      </div>
    </div>
  );
}
